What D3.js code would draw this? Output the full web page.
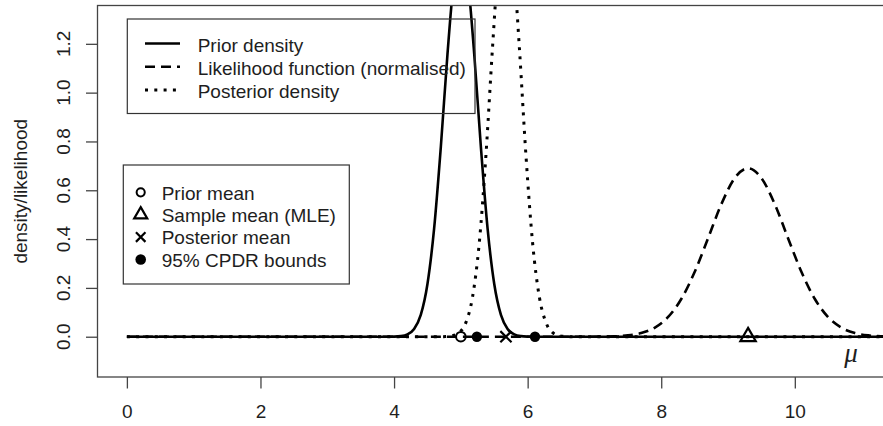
<!DOCTYPE html>
<html>
<head>
<meta charset="utf-8">
<script src="https://cdn.jsdelivr.net/npm/d3@7"></script>
<style>
body { margin: 0; background: #fff; }
text { font-family: "Liberation Sans", Arial, sans-serif; fill: #1e1e1e; }
</style>
</head>
<body>
<svg width="883" height="426"></svg>
<script>
// values
const xTicks = [0, 2, 4, 6, 8, 10];
const yTicks = [0, 0.2, 0.4, 0.6, 0.8, 1.0, 1.2];

const priorX = [0, 3.9, 4.0, 4.1, 4.2, 4.3, 4.4, 4.5, 4.6, 4.7, 4.8, 4.9, 5.0,
    5.1, 5.2, 5.3, 5.4, 5.5, 5.6, 5.7, 5.8, 5.9, 6.0, 6.1, 12];
const priorY = [0, 0, 0.0005, 0.0024, 0.0095, 0.0317, 0.0895, 0.216, 0.444, 0.777, 1.159, 1.473, 1.596,
    1.473, 1.159, 0.777, 0.444, 0.216, 0.0895, 0.0317, 0.0095, 0.0024, 0.0005, 0, 0];

const likeX = [0, 6.9, 7.1, 7.3, 7.5, 7.7, 7.9, 8.1, 8.3, 8.5, 8.7, 8.9, 9.1, 9.3,
    9.5, 9.7, 9.9, 10.1, 10.3, 10.5, 10.7, 10.9, 11.1, 11.3, 11.5, 11.7, 12];
const likeY = [0, 0, 0.0005, 0.0017, 0.0054, 0.015, 0.0367, 0.08, 0.1545, 0.265, 0.4025, 0.543, 0.65, 0.69,
    0.65, 0.543, 0.4025, 0.265, 0.1545, 0.08, 0.0367, 0.015, 0.0054, 0.0017, 0.0005, 0, 0];

const postX = [0, 4.575, 4.675, 4.775, 4.875, 4.975, 5.075, 5.175, 5.275, 5.375, 5.475, 5.575, 5.675,
    5.775, 5.875, 5.975, 6.075, 6.175, 6.275, 6.375, 6.475, 6.575, 6.675, 6.775, 12];
const postY = [0, 0, 0.0001, 0.0008, 0.0041, 0.0169, 0.0577, 0.163, 0.382, 0.741, 1.189, 1.578, 1.735,
    1.578, 1.189, 0.741, 0.382, 0.163, 0.0577, 0.0169, 0.0041, 0.0008, 0.0001, 0, 0];

const priorMean = 5;
const sampleMean = 9.3;
const postMean = 5.675;
const cpdrBounds = [5.24, 6.11];

const curveNames = ["Prior density", "Likelihood function (normalised)", "Posterior density"];
const markerNames = ["Prior mean", "Sample mean (MLE)", "Posterior mean", "95% CPDR bounds"];

const svg = d3.select('svg');
const width = +svg.attr("width");
const height = +svg.attr("height");

const margin = { top: 5.5, left: 97.5, right: -8, bottom: 49 };
const innerWidth = width - margin.left - margin.right;
const innerHeight = height - margin.top - margin.bottom;

const xScale = d3.scaleLinear()
    .domain([-0.44, 11.44])
    .range([0, innerWidth]);

const yScale = d3.scaleLinear()
    .domain([-0.165, 1.357])
    .range([innerHeight, 0]);

const g = svg.append('g')
    .attr('transform', `translate(${margin.left},${margin.top})`);

g.append('clipPath').attr('id', 'plotclip')
    .append('rect')
    .attr('width', innerWidth)
    .attr('height', innerHeight);

// axes
const xAxisGroup = g.append('g')
    .attr('transform', `translate(0,${innerHeight})`)
    .call(d3.axisBottom(xScale).tickValues(xTicks).tickSize(11.5).tickPadding(16));
const yAxisGroup = g.append('g')
    .call(d3.axisLeft(yScale).tickValues(yTicks).tickFormat(d3.format('.1f')).tickSize(11.5));

[xAxisGroup, yAxisGroup].forEach(ax => {
    ax.select('.domain').remove();
    ax.selectAll('.tick line').attr('stroke', '#444').attr('stroke-width', 1.3);
    ax.selectAll('.tick text').style('font-size', '19px').attr('fill', '#1e1e1e');
});

// R style: y labels parallel to the axis
yAxisGroup.selectAll('.tick text').remove();
svg.append('g').selectAll('text')
    .data(yTicks)
    .enter()
    .append('text')
    .attr('transform', d => `translate(63,${margin.top + yScale(d)}) rotate(-90)`)
    .attr('text-anchor', 'middle')
    .attr('dy', '0.35em')
    .style('font-size', '19px')
    .text(d3.format('.1f'));

svg.append('text')
    .attr('transform', `translate(20,${margin.top + innerHeight / 2}) rotate(-90)`)
    .attr('text-anchor', 'middle')
    .attr('dy', '0.35em')
    .style('font-size', '19px')
    .text('density/likelihood');

// curves
const line = d3.line()
    .x(d => xScale(d[0]))
    .y(d => yScale(d[1]))
    .curve(d3.curveMonotoneX);

const curves = g.append('g').attr('clip-path', 'url(#plotclip)');
const styles = [
    { dash: null, w: 2.6 },
    { dash: '10,6', w: 2.6 },
    { dash: '3,6.3', w: 3 }
];
[[priorX, priorY], [likeX, likeY], [postX, postY]].forEach((s, i) => {
    curves.append('path')
        .datum(d3.zip(s[0], s[1]))
        .attr('d', line)
        .attr('fill', 'none')
        .attr('stroke', '#000')
        .attr('stroke-width', styles[i].w)
        .attr('stroke-dasharray', styles[i].dash);
});

// markers
function marker(sel, type, cx, cy, k) {
    if (type === 'circle') {
        sel.append('circle').attr('cx', cx).attr('cy', cy).attr('r', 4.8 * k)
            .attr('fill', 'none').attr('stroke', '#000').attr('stroke-width', 2);
    } else if (type === 'triangle') {
        const u = 5.7 * k;
        sel.append('path')
            .attr('d', `M${cx},${cy - 1.555 * u}L${cx + 1.347 * u},${cy + 0.778 * u}L${cx - 1.347 * u},${cy + 0.778 * u}Z`)
            .attr('fill', 'none').attr('stroke', '#000').attr('stroke-width', 2.2);
    } else if (type === 'cross') {
        const h = 5.6 * k;
        sel.append('path')
            .attr('d', `M${cx - h},${cy - h}L${cx + h},${cy + h}M${cx - h},${cy + h}L${cx + h},${cy - h}`)
            .attr('fill', 'none').attr('stroke', '#000').attr('stroke-width', 2.2);
    } else {
        sel.append('circle').attr('cx', cx).attr('cy', cy).attr('r', 5.2 * k).attr('fill', '#000');
    }
}

const pts = g.append('g');
marker(pts, 'circle', xScale(priorMean), yScale(0), 1);
marker(pts, 'triangle', xScale(sampleMean), yScale(0), 1);
marker(pts, 'cross', xScale(postMean), yScale(0), 1);
cpdrBounds.forEach(b => marker(pts, 'dot', xScale(b), yScale(0), 1));

g.append('text')
    .attr('x', xScale(10.84))
    .attr('y', yScale(-0.105))
    .attr('text-anchor', 'middle')
    .style('font-family', '"Liberation Serif", serif')
    .style('font-style', 'italic')
    .style('font-size', '27px')
    .text('μ');

// frame (right edge falls outside the picture)
g.append('rect')
    .attr('width', innerWidth)
    .attr('height', innerHeight)
    .attr('fill', 'none')
    .attr('stroke', '#444')
    .attr('stroke-width', 1.3);

// legend 1: curves
const leg1 = svg.append('g');
leg1.append('rect')
    .attr('x', 127.3).attr('y', 19).attr('width', 347.7).attr('height', 94.5)
    .attr('fill', 'none').attr('stroke', '#333').attr('stroke-width', 1.2);
curveNames.forEach((name, i) => {
    const ry = 44.5 + i * 23.3;
    leg1.append('line')
        .attr('x1', 145).attr('x2', 180)
        .attr('y1', ry - 1).attr('y2', ry - 1)
        .attr('stroke', '#000').attr('stroke-width', styles[i].w)
        .attr('stroke-dasharray', styles[i].dash);
    leg1.append('text')
        .attr('x', 197.7).attr('y', ry)
        .attr('dy', '0.38em')
        .style('font-size', '19px')
        .text(name);
});

// legend 2: points
const leg2 = svg.append('g');
leg2.append('rect')
    .attr('x', 123.3).attr('y', 165).attr('width', 226).attr('height', 119)
    .attr('fill', 'none').attr('stroke', '#333').attr('stroke-width', 1.2);
const markerTypes = ['circle', 'triangle', 'cross', 'dot'];
markerNames.forEach((name, i) => {
    const ry = 192.3 + i * 22.4;
    marker(leg2, markerTypes[i], 140.7, ry, i === 3 ? 1.02 : 0.85);
    leg2.append('text')
        .attr('x', 161.7).attr('y', ry)
        .attr('dy', '0.38em')
        .style('font-size', '19px')
        .text(name);
});
</script>
</body>
</html>
